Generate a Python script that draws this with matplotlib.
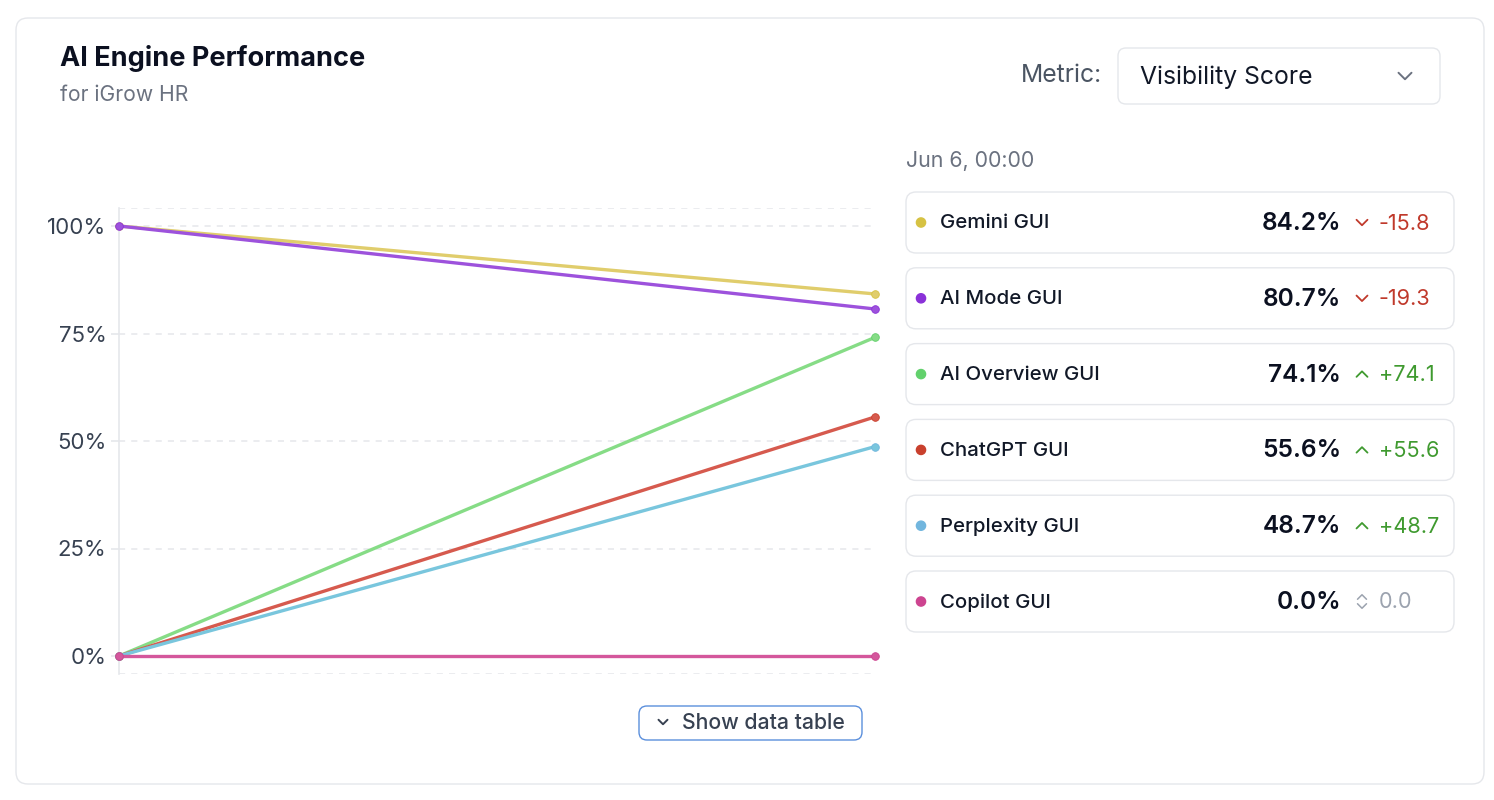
import matplotlib
matplotlib.use("Agg")
import matplotlib.pyplot as plt
from matplotlib.patches import FancyBboxPatch, Circle
from matplotlib.lines import Line2D

plt.rcParams['font.family'] = ['Inter', 'DejaVu Sans']

# ---- data ----
engines = ["Gemini GUI", "AI Mode GUI", "AI Overview GUI", "ChatGPT GUI", "Perplexity GUI", "Copilot GUI"]
start_vals = [100.0, 100.0, 0.0, 0.0, 0.0, 0.0]
end_vals = [84.2, 80.7, 74.1, 55.6, 48.7, 0.0]
deltas = [-15.8, -19.3, 74.1, 55.6, 48.7, 0.0]
line_colors = ["#e0cd6c", "#9d52dc", "#86dc86", "#d65a4e", "#79c6dd", "#d4579c"]
dot_colors = ["#d6c243", "#8a31d8", "#62d16c", "#c9402d", "#72b6de", "#cd4490"]
y_ticks = [0, 25, 50, 75, 100]
y_tick_labels = ["0%", "25%", "50%", "75%", "100%"]
title = "AI Engine Performance"
subtitle = "for iGrow HR"
timestamp = "Jun 6, 00:00"

W, H = 1494, 800
fig = plt.figure(figsize=(W / 100, H / 100), dpi=100)
fig.patch.set_facecolor("white")

# background overlay axes in pixel coords
bg = fig.add_axes([0, 0, 1, 1], zorder=0)
bg.set_xlim(0, W)
bg.set_ylim(H, 0)
bg.axis("off")

def rbox(x0, y0, x1, y1, r, ec, fc="white", lw=1.0, z=1):
    p = FancyBboxPatch((x0 + r, y0 + r), (x1 - x0) - 2 * r, (y1 - y0) - 2 * r,
                       boxstyle=f"round,pad={r}", ec=ec, fc=fc, lw=lw, zorder=z)
    bg.add_patch(p)

def chevron(cx, cy, w, h, color, down=True, lw=1.3):
    if down:
        xs = [cx - w / 2, cx, cx + w / 2]
        ys = [cy - h / 2, cy + h / 2, cy - h / 2]
    else:
        xs = [cx - w / 2, cx, cx + w / 2]
        ys = [cy + h / 2, cy - h / 2, cy + h / 2]
    bg.add_line(Line2D(xs, ys, color=color, lw=lw, solid_capstyle="round",
                       solid_joinstyle="round", zorder=5))

# outer card
rbox(16, 18, 1484, 784, 12, "#e5e7eb", lw=1.0)

# titles
bg.text(60, 58, title, fontsize=19.5, fontweight="bold", color="#0b1020", va="center", ha="left", zorder=5)
bg.text(60, 95, subtitle, fontsize=15.2, color="#6b7280", va="center", ha="left", zorder=5)

# metric selector
bg.text(1102, 76, "Metric:", fontsize=17.8, color="#4b5563", va="center", ha="right", zorder=5)
rbox(1118, 48, 1440, 104, 8, "#e5e7eb", lw=1.0, z=2)
bg.text(1140, 77, "Visibility Score", fontsize=17.8, color="#111827", va="center", ha="left", zorder=5)
chevron(1405, 76, 13, 6.5, "#6b7280", down=True, lw=1.4)

# timestamp
bg.text(906, 161, timestamp, fontsize=15.4, color="#6b7280", va="center", ha="left", zorder=5)

# legend cards
card_top = 192
card_step = 75.8
card_h = 61
for i, name in enumerate(engines):
    y0 = card_top + i * card_step
    yc = y0 + card_h / 2
    rbox(906, y0, 1454, y0 + card_h, 10, "#e5e7eb", lw=1.0, z=2)
    bg.add_patch(Circle((921, yc), 4.6, color=dot_colors[i], zorder=5))
    bg.text(940, yc + 1, name, fontsize=14.7, fontweight="medium", color="#111827", va="center", ha="left", zorder=5)
    bg.text(1341, yc + 1, f"{end_vals[i]:.1f}%", fontsize=17.6, fontweight="semibold", color="#0b1020",
            va="center", ha="right", zorder=5)
    d = deltas[i]
    if d < 0:
        col = "#c0392b"
        chevron(1362, yc, 11, 5.5, col, down=True)
        txt = f"-{abs(d):.1f}"
    elif d > 0:
        col = "#3f9a2f"
        chevron(1362, yc, 11, 5.5, col, down=False)
        txt = f"+{d:.1f}"
    else:
        col = "#9ca3af"
        chevron(1362, yc - 4.5, 9, 4.5, col, down=False, lw=1.1)
        chevron(1362, yc + 4.5, 9, 4.5, col, down=True, lw=1.1)
        txt = f"{d:.1f}"
    bg.text(1379, yc + 1, txt, fontsize=15.6, color=col, va="center", ha="left", zorder=5)

# show data table button
rbox(639, 706, 862, 740, 8, "#5b8fdc", lw=1.0, z=2)
chevron(663, 722, 9, 4.5, "#374151", down=True, lw=1.4)
bg.text(682, 723, "Show data table", fontsize=15.3, fontweight="medium", color="#374151",
        va="center", ha="left", zorder=5)

# ---- chart axes ----
ax_l, ax_r = 119, 875
ax_t, ax_b = 208, 674
ax = fig.add_axes([ax_l / W, 1 - ax_b / H, (ax_r - ax_l) / W, (ax_b - ax_t) / H], zorder=1)
ax.set_facecolor("none")
pad = 18 / 4.3
ax.set_ylim(-pad, 100 + pad)
ax.set_xlim(0, 1)
for s in ["top", "right", "bottom"]:
    ax.spines[s].set_visible(False)
ax.spines["left"].set_color("#e5e7eb")
ax.spines["left"].set_linewidth(1.2)
ax.set_xticks([])
ax.set_yticks(y_ticks)
ax.set_yticklabels(y_tick_labels)
ax.tick_params(axis="y", length=6, color="#e5e7eb", width=1.2, labelsize=16.0, labelcolor="#374151", pad=3)
for yv in y_ticks + [-pad, 100 + pad]:
    ax.axhline(yv, color="#e5e7eb", lw=1.1, ls=(0, (4, 4)), zorder=0)

xs = [0, 1]
for i, name in enumerate(engines):
    ax.plot(xs, [start_vals[i], end_vals[i]], color=line_colors[i], lw=2.4, zorder=2 + i,
            solid_capstyle="round")
    ax.plot(xs, [start_vals[i], end_vals[i]], ls="none", marker="o", ms=5.5,
            color=line_colors[i], mec=dot_colors[i], mew=0.6, zorder=2 + i, clip_on=False)

fig.savefig("out.png", dpi=100, facecolor="white")
